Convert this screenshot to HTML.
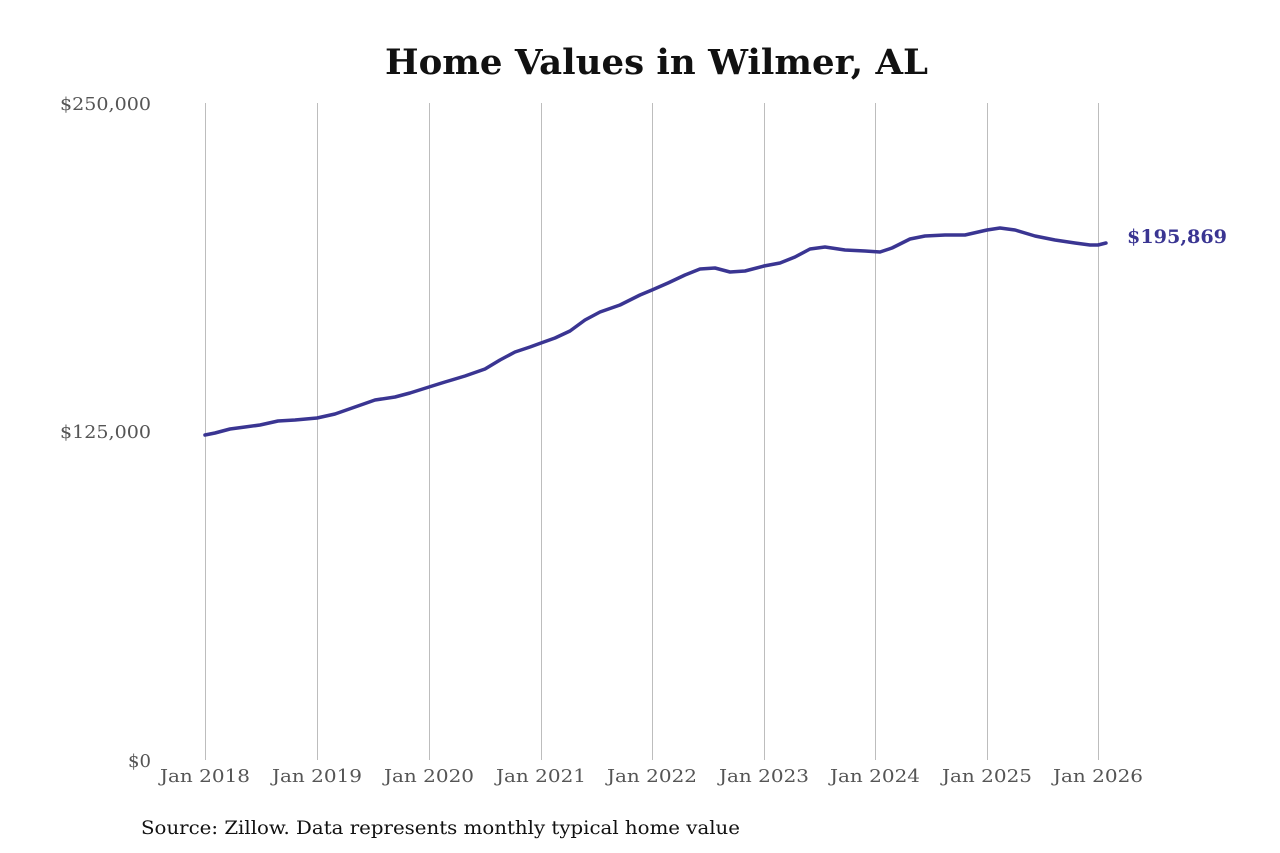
<!DOCTYPE html>
<html><head><meta charset="utf-8"><style>
html,body{margin:0;padding:0;background:#fff;}
svg{display:block;}
text{font-family:"DejaVu Serif","Liberation Serif",serif;}
</style></head><body>
<svg width="1280" height="853" viewBox="0 0 1280 853" xmlns="http://www.w3.org/2000/svg">
<rect width="1280" height="853" fill="#fff"/>
<text x="385" y="74" font-size="35" font-weight="bold" fill="#111" textLength="543" lengthAdjust="spacingAndGlyphs">Home Values in Wilmer, AL</text>
<g stroke="#bdbdbd" stroke-width="1">
<line x1="205.5" y1="103" x2="205.5" y2="760"/>
<line x1="317.5" y1="103" x2="317.5" y2="760"/>
<line x1="429.5" y1="103" x2="429.5" y2="760"/>
<line x1="541.5" y1="103" x2="541.5" y2="760"/>
<line x1="652.5" y1="103" x2="652.5" y2="760"/>
<line x1="764.5" y1="103" x2="764.5" y2="760"/>
<line x1="875.5" y1="103" x2="875.5" y2="760"/>
<line x1="987.5" y1="103" x2="987.5" y2="760"/>
<line x1="1098.5" y1="103" x2="1098.5" y2="760"/>
</g>
<g font-size="18" fill="#555">
<text x="60" y="110" textLength="91" lengthAdjust="spacingAndGlyphs">$250,000</text>
<text x="60" y="438" textLength="91" lengthAdjust="spacingAndGlyphs">$125,000</text>
<text x="128" y="767" textLength="23" lengthAdjust="spacingAndGlyphs">$0</text>
</g>
<g font-size="18" fill="#555">
<text x="160" y="782" textLength="90" lengthAdjust="spacingAndGlyphs">Jan 2018</text>
<text x="272" y="782" textLength="90" lengthAdjust="spacingAndGlyphs">Jan 2019</text>
<text x="384" y="782" textLength="90" lengthAdjust="spacingAndGlyphs">Jan 2020</text>
<text x="496" y="782" textLength="90" lengthAdjust="spacingAndGlyphs">Jan 2021</text>
<text x="607" y="782" textLength="90" lengthAdjust="spacingAndGlyphs">Jan 2022</text>
<text x="719" y="782" textLength="90" lengthAdjust="spacingAndGlyphs">Jan 2023</text>
<text x="830" y="782" textLength="90" lengthAdjust="spacingAndGlyphs">Jan 2024</text>
<text x="942" y="782" textLength="90" lengthAdjust="spacingAndGlyphs">Jan 2025</text>
<text x="1053" y="782" textLength="90" lengthAdjust="spacingAndGlyphs">Jan 2026</text>
</g>
<polyline fill="none" stroke="#3a3592" stroke-width="3.5" stroke-linejoin="round" stroke-linecap="round"
points="205,435 215,433 230,429 245,427 260,425 278,421 295,420 317,418 335,414 355,407 375,400 395,397 410,393 429,387 445,382 465,376 485,369 500,360 515,352 530,347 541,343 555,338 570,331 585,320 600,312 620,305 640,295 652,290 668,283 685,275 700,269 715,268 730,272 745,271 764,266 780,263 795,257 810,249 825,247 845,250 865,251 880,252 892,248 910,239 925,236 945,235 965,235 987,230 1000,228 1015,230 1035,236 1055,240 1075,243 1090,245 1098,245 1106,243"/>
<text x="1127" y="243" font-size="19" font-weight="bold" fill="#3a3592" textLength="100" lengthAdjust="spacingAndGlyphs">$195,869</text>
<text x="141" y="834" font-size="19" fill="#111" textLength="599" lengthAdjust="spacingAndGlyphs">Source: Zillow. Data represents monthly typical home value</text>
</svg>
</body></html>
